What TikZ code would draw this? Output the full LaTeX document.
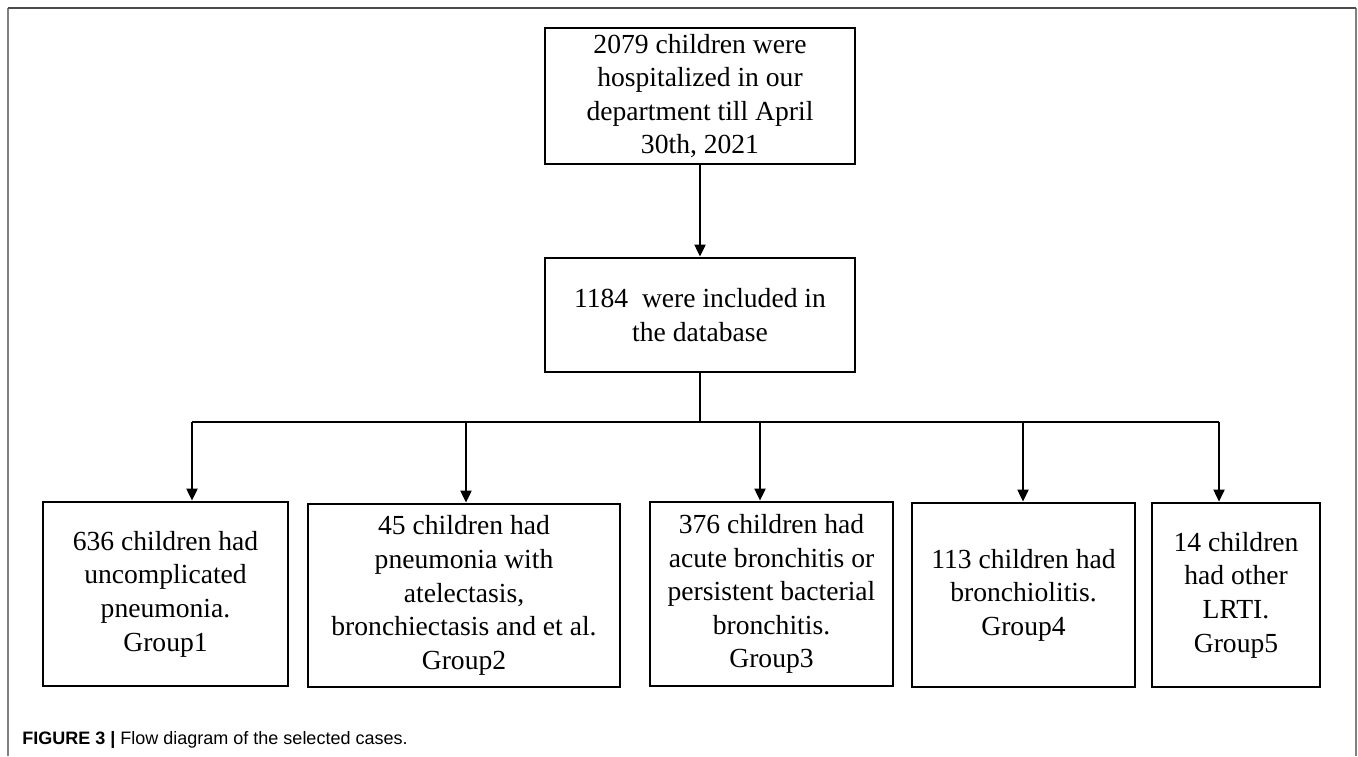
\documentclass[tikz,border=0pt]{standalone}
\usepackage{fontspec}
\setmainfont{Liberation Serif}
\newfontfamily\capfont{Liberation Sans}
\usetikzlibrary{positioning,arrows.meta}

\begin{document}
\begin{tikzpicture}[x=0.5pt,y=-0.5pt,
	flowbox/.style={draw,line width=1.4pt,align=center,inner sep=0pt,font=\fontsize{13.8}{16.8}\selectfont},
	link/.style={line width=1pt},
	arr/.style={link,-{Triangle[length=6pt,width=5.5pt]}}]
		\useasboundingbox (0,0) rectangle (1358,756);

		% frame
		\draw[line width=1pt,gray] (8,756) -- (8,8);
		\draw[line width=1pt,gray] (1356,8) -- (1356,756);
		\draw[line width=1pt,black!70] (8,8) -- (1356,8);

		\node[flowbox,minimum width=155pt,minimum height=68pt] (start) at (700,96) {2079 children were\\hospitalized in our\\department till April\\30th, 2021};
		\node[flowbox,minimum width=155pt,minimum height=57pt] (incl) at (700,315) {1184\ \ were included in\\the database};

		\node[flowbox,minimum width=122.5pt,minimum height=92pt] (g1) at (165.5,594) {636 children had\\uncomplicated\\pneumonia.\\Group1};
		\node[flowbox,minimum width=156pt,minimum height=91.5pt] (g2) at (464,595.5) {45 children had\\pneumonia with\\atelectasis,\\bronchiectasis and et al.\\Group2};
		\node[flowbox,minimum width=121.5pt,minimum height=92pt] (g3) at (771.5,594) {376 children had\\acute bronchitis or\\persistent bacterial\\bronchitis.\\Group3};
		\node[flowbox,minimum width=111.5pt,minimum height=92pt] (g4) at (1023.5,595) {113 children had\\bronchiolitis.\\Group4};
		\node[flowbox,minimum width=84pt,minimum height=92pt] (g5) at (1236,595) {14 children\\had other\\LRTI.\\Group5};

		% bus
		\coordinate (d1) at (192,422);
		\coordinate (d2) at (466,422);
		\coordinate (d3) at (760,422);
		\coordinate (d4) at (1023,422);
		\coordinate (d5) at (1219,422);

		\draw[arr] (start) -- (incl);
		\draw[link] (incl.south) -- (incl.south |- d1);
		\draw[link] (d1) -- (d5);
		\draw[arr] (d1) -- (d1 |- g1.north);
		\draw[arr] (d2) -- (d2 |- g2.north);
		\draw[arr] (d3) -- (d3 |- g3.north);
		\draw[arr] (d4) -- (d4 |- g4.north);
		\draw[arr] (d5) -- (d5 |- g5.north);

		\node[anchor=base west,inner sep=0pt,font=\capfont\fontsize{9}{11}\selectfont] (cap) at (22,744) {\textbf{FIGURE 3 |} Flow diagram of the selected cases.};
	\end{tikzpicture}
\end{document}
